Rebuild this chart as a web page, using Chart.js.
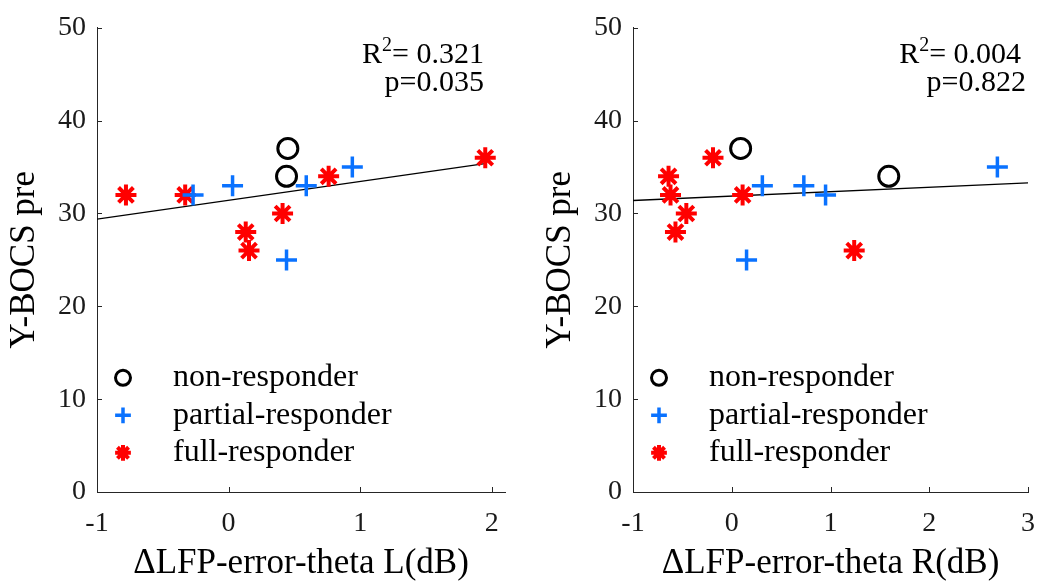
<!DOCTYPE html>
<html>
<head>
<meta charset="utf-8">
<script src="https://cdn.jsdelivr.net/npm/chart.js@4.4.0/dist/chart.umd.min.js"></script>
<style>
  html, body { margin: 0; padding: 0; background: #fff; }
  #wrap { position: relative; width: 1050px; height: 585px; }
  canvas { position: absolute; top: 0; }
</style>
</head>
<body>
<div id="wrap">
  <canvas id="left" width="520" height="585" style="left:0px"></canvas>
  <canvas id="right" width="514" height="585" style="left:536px"></canvas>
</div>
<script>
// tick labels
const xTicksL = [-1, 0, 1, 2];
const xTicksR = [-1, 0, 1, 2, 3];
const yTicks = [0, 10, 20, 30, 40, 50];

// left panel: delta LFP-error-theta L
const nonL_x = [0.45, 0.44];
const nonL_y = [37, 34];
const partL_x = [-0.27, 0.03, 0.44, 0.59, 0.94];
const partL_y = [32, 33, 25, 33, 35];
const fullL_x = [-0.78, -0.33, 0.13, 0.155, 0.41, 0.76, 1.95];
const fullL_y = [32, 32, 28, 26, 30, 34, 36];
const fitL_x = [-1, 1.96];
const fitL_y = [29.4, 35.4];
const statsL = ['0.321', '0.035'];

// right panel: delta LFP-error-theta R
const nonR_x = [0.09, 1.59];
const nonR_y = [37, 34];
const partR_x = [0.15, 0.31, 0.73, 0.95, 2.69];
const partR_y = [25, 33, 33, 32, 35];
const fullR_x = [-0.64, -0.62, -0.57, -0.46, -0.19, 0.11, 1.24];
const fullR_y = [34, 32, 28, 30, 36, 32, 26];
const fitR_x = [-1, 3];
const fitR_y = [31.4, 33.3];
const statsR = ['0.004', '0.822'];

const serif = '"Liberation Serif", "Times New Roman", serif';
const axisColor = '#262626';
const blue = '#0a72ff';
const red = '#ff0000';

Chart.defaults.font.family = serif;
Chart.defaults.color = '#1a1a1a';

const pts = (xs, ys) => xs.map((x, i) => ({ x: x, y: ys[i] }));

// MATLAB style ticks pointing into the axes
const inwardTicks = {
  id: 'inwardTicks',
  afterDraw(chart) {
    const ctx = chart.ctx, sx = chart.scales.x, sy = chart.scales.y, a = chart.chartArea;
    ctx.save();
    ctx.strokeStyle = axisColor;
    ctx.lineWidth = 1;
    ctx.beginPath();
    sx.ticks.forEach(t => {
      const px = Math.round(sx.getPixelForValue(t.value)) + 0.5;
      ctx.moveTo(px, a.bottom);
      ctx.lineTo(px, a.bottom - 5);
    });
    sy.ticks.forEach(t => {
      const py = Math.round(sy.getPixelForValue(t.value)) + 0.5;
      ctx.moveTo(a.left, py);
      ctx.lineTo(a.left + 5, py);
    });
    ctx.stroke();
    ctx.restore();
  }
};

// legend inside the axes, lower left
const innerLegend = {
  id: 'innerLegend',
  afterDraw(chart) {
    const ctx = chart.ctx, a = chart.chartArea;
    const items = chart.data.datasets.filter(d => d.legendText);
    ctx.save();
    items.forEach((d, i) => {
      const y = a.top + 350 + i * 37.5;
      ctx.strokeStyle = d.borderColor;
      ctx.fillStyle = 'rgba(0,0,0,0)';
      ctx.lineWidth = d.borderWidth;
      Chart.helpers.drawPoint(ctx, {
        pointStyle: d.pointStyle, radius: d.pointRadius * 0.75, rotation: 0, borderWidth: d.borderWidth
      }, a.left + 26, y);
      ctx.fillStyle = '#000';
      ctx.font = '32px ' + serif;
      ctx.textAlign = 'left';
      ctx.textBaseline = 'middle';
      ctx.fillText(d.legendText, a.left + 76, y);
    });
    ctx.restore();
  }
};

// R^2 and p text, upper right
const statsText = {
  id: 'statsText',
  afterDraw(chart, args, opts) {
    const ctx = chart.ctx, sx = chart.scales.x, sy = chart.scales.y;
    ctx.save();
    ctx.fillStyle = '#000';
    ctx.textBaseline = 'alphabetic';
    ctx.textAlign = 'left';
    const big = '30px ' + serif, small = '20px ' + serif;
    ctx.font = big;
    const wR = ctx.measureText('R').width;
    const rest = '= ' + opts.values[0];
    const wRest = ctx.measureText(rest).width;
    ctx.font = small;
    const w2 = ctx.measureText('2').width;
    let x = sx.getPixelForValue(opts.x1) - (wR + w2 + wRest);
    const y1 = sy.getPixelForValue(opts.y1);
    ctx.font = big;
    ctx.fillText('R', x, y1);
    ctx.font = small;
    ctx.fillText('2', x + wR, y1 - 12);
    ctx.font = big;
    ctx.fillText(rest, x + wR + w2, y1);
    const pt = 'p=' + opts.values[1];
    const wp = ctx.measureText(pt).width;
    ctx.fillText(pt, sx.getPixelForValue(opts.x2) - wp, sy.getPixelForValue(opts.y2));
    ctx.restore();
  }
};

function makeChart(id, cfg) {
  return new Chart(document.getElementById(id), {
    type: 'scatter',
    data: {
      datasets: [
        {
          label: 'non-responder', legendText: 'non-responder',
          data: pts(cfg.nonX, cfg.nonY),
          pointStyle: 'circle', pointRadius: 10, borderWidth: 3,
          borderColor: '#000', backgroundColor: 'rgba(0,0,0,0)', order: 1
        },
        {
          label: 'partial-responder', legendText: 'partial-responder',
          data: pts(cfg.partX, cfg.partY),
          pointStyle: 'cross', pointRadius: 10.5, borderWidth: 3.5,
          borderColor: blue, backgroundColor: blue, order: 1
        },
        {
          label: 'full-responder', legendText: 'full-responder',
          data: pts(cfg.fullX, cfg.fullY),
          pointStyle: 'star', pointRadius: 10.5, borderWidth: 4,
          borderColor: red, backgroundColor: red, order: 1
        },
        {
          label: 'fit',
          data: pts(cfg.fitX, cfg.fitY),
          showLine: true, pointRadius: 0, borderWidth: 1.3,
          borderColor: '#000', backgroundColor: '#000', order: 2
        }
      ]
    },
    options: {
      responsive: false,
      animation: false,
      devicePixelRatio: 1,
      layout: { padding: { top: 23, right: cfg.padRight, left: 0, bottom: 0 } },
      plugins: {
        legend: { display: false },
        tooltip: { enabled: false },
        statsText: cfg.stats
      },
      scales: {
        x: {
          type: 'linear', min: -1, max: cfg.xMax,
          afterBuildTicks: s => { s.ticks = cfg.xTicks.map(v => ({ value: v })); },
          afterFit: s => { s.height = 93; },
          grid: { drawOnChartArea: false, drawTicks: false },
          border: { display: true, color: axisColor, width: 1 },
          ticks: { font: { size: 28 }, padding: 15, color: '#1a1a1a', maxRotation: 0 },
          title: { display: true, text: cfg.xTitle, font: { size: 35 }, color: '#000', padding: { top: 0, bottom: 0 } }
        },
        y: {
          type: 'linear', min: 0, max: 50,
          afterBuildTicks: s => { s.ticks = yTicks.map(v => ({ value: v })); },
          afterFit: s => { s.width = 97; },
          grid: { drawOnChartArea: false, drawTicks: false },
          border: { display: true, color: axisColor, width: 1 },
          ticks: { font: { size: 28 }, padding: 11, color: '#1a1a1a' },
          title: { display: true, text: 'Y-BOCS pre', font: { size: 35 }, color: '#000', padding: { top: 4, bottom: 0 } }
        }
      }
    },
    plugins: [inwardTicks, innerLegend, statsText]
  });
}

makeChart('left', {
  nonX: nonL_x, nonY: nonL_y, partX: partL_x, partY: partL_y, fullX: fullL_x, fullY: fullL_y,
  fitX: fitL_x, fitY: fitL_y, xMax: 2.1, xTicks: xTicksL, padRight: 15,
  xTitle: '\u0394LFP-error-theta L(dB)',
  stats: { values: statsL, x1: 1.94, y1: 46.2, x2: 1.94, y2: 43.2 }
});

makeChart('right', {
  nonX: nonR_x, nonY: nonR_y, partX: partR_x, partY: partR_y, fullX: fullR_x, fullY: fullR_y,
  fitX: fitR_x, fitY: fitR_y, xMax: 3, xTicks: xTicksR, padRight: 9,
  xTitle: '\u0394LFP-error-theta R(dB)',
  stats: { values: statsR, x1: 2.93, y1: 46.2, x2: 2.98, y2: 43.2 }
});
</script>
</body>
</html>
